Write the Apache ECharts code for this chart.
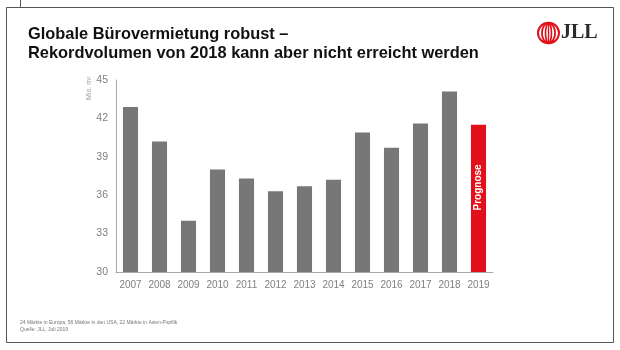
<!DOCTYPE html>
<html>
<head>
<meta charset="utf-8">
<script src="https://cdn.jsdelivr.net/npm/echarts@6/dist/echarts.min.js"></script>
<style>
  html, body { margin: 0; padding: 0; background: #fff; }
  #chart { width: 620px; height: 350px; }
</style>
</head>
<body>
<div id="chart"></div>
<script>
// Jahre und Vermietungsvolumen (Mio. m²)
var years = ["2007", "2008", "2009", "2010", "2011", "2012", "2013", "2014", "2015", "2016", "2017", "2018", "2019"];
var volume = [42.9, 40.2, 34.0, 38.0, 37.3, 36.3, 36.7, 37.2, 40.9, 39.7, 41.6, 44.1, 41.5];
var forecastYear = "2019";
var yTicks = [30, 33, 36, 39, 42, 45];

var myChart = echarts.init(document.getElementById("chart"));

var barData = volume.map(function (v, i) {
  if (years[i] === forecastYear) {
    return {
      value: v,
      itemStyle: { color: "#e2101a" },
      label: {
        show: true,
        position: "inside",
        rotate: 90,
        align: "center",
        verticalAlign: "middle",
        overflow: "none",
        offset: [11, 0], // wird mitgedreht -> nach oben
        formatter: "Prognose",
        color: "#fff",
        fontWeight: "bold",
        fontSize: 10,
        fontFamily: "Liberation Sans"
      }
    };
  }
  return v;
});

var option = {
  backgroundColor: "#fff",
  animation: false,
  grid: { left: 116, right: 127, top: 80, bottom: 78 },
  xAxis: {
    type: "category",
    data: years,
    axisLine: { lineStyle: { color: "#a8a8a8", width: 1 } },
    axisTick: { show: false },
    axisLabel: { color: "#808080", fontSize: 10, margin: 8, fontFamily: "Liberation Sans" }
  },
  yAxis: {
    type: "value",
    min: yTicks[0],
    max: yTicks[yTicks.length - 1],
    interval: 3,
    axisLine: { show: true, lineStyle: { color: "#a8a8a8", width: 1 } },
    axisTick: { show: false },
    splitLine: { show: false },
    axisLabel: { color: "#808080", fontSize: 10.5, margin: 8, fontFamily: "Liberation Sans" }
  },
  series: [{
    type: "bar",
    data: barData,
    barWidth: "52%",
    itemStyle: { color: "#777777" }
  }],
  graphic: [
    // Folienrahmen
    { type: "rect", shape: { x: 6.5, y: 7.5, width: 607, height: 335 }, style: { fill: "none", stroke: "#555", lineWidth: 1 } },
    { type: "line", shape: { x1: 20.5, y1: 0, x2: 20.5, y2: 7 }, style: { stroke: "#555", lineWidth: 1 } },
    // Titel
    {
      type: "text", left: 28, top: 25,
      style: {
        text: "Globale Bürovermietung robust –\nRekordvolumen von 2018 kann aber nicht erreicht werden",
        fill: "#111", font: "bold 16.4px 'Liberation Sans'", lineHeight: 19
      }
    },
    // Logo
    { type: "ellipse", shape: { cx: 548.5, cy: 33, rx: 10.5, ry: 10.2 }, style: { fill: "none", stroke: "#e2101a", lineWidth: 2 } },
    { type: "ellipse", shape: { cx: 548.5, cy: 33, rx: 6.6, ry: 9.8 }, style: { fill: "none", stroke: "#e2101a", lineWidth: 1.8 } },
    { type: "ellipse", shape: { cx: 548.5, cy: 33, rx: 3, ry: 9.4 }, style: { fill: "none", stroke: "#e2101a", lineWidth: 1.6 } },
    { type: "line", shape: { x1: 548.5, y1: 24, x2: 548.5, y2: 42 }, style: { stroke: "#e2101a", lineWidth: 1.4 } },
    {
      type: "text", left: 561, top: 23,
      style: { text: "JLL", fill: "#2b2b2b", font: "bold 20px 'Liberation Serif'" }
    },
    // Einheit
    {
      type: "text", x: 89, y: 100, rotation: Math.PI / 2,
      style: { text: "Mio. m²", fill: "#999", font: "7px 'Liberation Sans'", align: "left", verticalAlign: "middle" }
    },
    // Fußnote
    {
      type: "text", left: 20, top: 319,
      style: {
        text: "24 Märkte in Europa, 56 Märkte in den USA, 22 Märkte in Asien-Pazifik\nQuelle: JLL, Juli 2019",
        fill: "#777", font: "5px 'Liberation Sans'", lineHeight: 7
      }
    }
  ]
};

myChart.setOption(option);
</script>
</body>
</html>
